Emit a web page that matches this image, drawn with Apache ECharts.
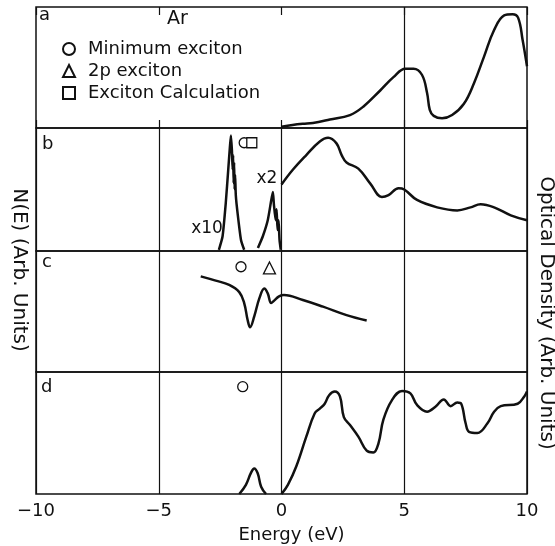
<!DOCTYPE html>
<html>
<head>
<meta charset="utf-8">
<script src="https://cdn.jsdelivr.net/npm/echarts@6/dist/echarts.min.js"></script>
<style>
  html, body { margin: 0; padding: 0; background: #fff; }
  #main { width: 555px; height: 546px; }
</style>
</head>
<body>
<div id="main"></div>
<script>
// energy ticks (eV)
var energyTicks = [-10, -5, 0, 5, 10];

// panel a: optical density, [energy, arb. units]
var densityA = [[0,0.01],[0.45,0.025],[0.87,0.035],[1.28,0.042],[1.97,0.07],[2.79,0.107],[3.33,0.176],
  [4.02,0.31],[4.56,0.42],[5.04,0.49],[5.38,0.49],[5.72,0.44],[5.93,0.29],[6.04,0.15],[6.2,0.1],
  [6.54,0.08],[6.95,0.107],[7.43,0.2],[7.84,0.37],[8.25,0.59],[8.66,0.81],[9.07,0.93],[9.41,0.94],
  [9.64,0.91],[9.82,0.73],[10,0.51]];

// panel b: x10 peak, x2 peak and optical density
var peakX10 = [[-2.55,0.01],[-2.4,0.12],[-2.27,0.39],[-2.17,0.66],[-2.1,0.85],[-2.06,0.94],[-2.02,0.82],
  [-1.99,0.66],[-1.97,0.78],[-1.95,0.55],[-1.93,0.72],[-1.91,0.5],[-1.89,0.62],[-1.86,0.45],
  [-1.79,0.31],[-1.65,0.09],[-1.52,0.01]];
var peakX2 = [[-0.96,0.025],[-0.76,0.12],[-0.56,0.25],[-0.42,0.41],[-0.35,0.48],[-0.31,0.38],
  [-0.24,0.25],[-0.2,0.34],[-0.16,0.17],[-0.12,0.25],[-0.08,0.09],[-0.03,0.01]];
var densityB = [[0,0.54],[0.46,0.66],[1.01,0.78],[1.56,0.89],[1.9,0.92],[2.24,0.875],[2.45,0.78],
  [2.65,0.72],[3.13,0.67],[3.61,0.55],[4.09,0.44],[4.36,0.455],[4.77,0.51],[5.0,0.5],[5.52,0.415],
  [6.34,0.355],[7.16,0.33],[7.7,0.355],[8.11,0.38],[8.66,0.355],[9.34,0.29],[10,0.25]];

// panel c: derivative-like spectrum
var spectrumC = [[-3.29,0.79],[-2.68,0.755],[-2.13,0.72],[-1.72,0.66],[-1.52,0.57],[-1.38,0.43],
  [-1.28,0.37],[-1.11,0.46],[-0.9,0.61],[-0.7,0.69],[-0.56,0.65],[-0.42,0.57],[-0.3,0.59],
  [-0.1,0.625],[0.1,0.636],[0.87,0.595],[1.69,0.54],[2.65,0.47],[3.47,0.425]];

// panel d: N(E)
var peakD = [[-1.72,0],[-1.45,0.075],[-1.24,0.175],[-1.11,0.21],[-0.97,0.17],[-0.83,0.06],[-0.63,0]];
var dosD = [[0,0],[0.26,0.075],[0.6,0.225],[1.01,0.47],[1.35,0.66],[1.56,0.7],[1.76,0.74],[1.94,0.81],
  [2.17,0.84],[2.38,0.8],[2.54,0.63],[2.79,0.565],[3.13,0.47],[3.47,0.355],[3.74,0.34],[3.95,0.415],
  [4.15,0.61],[4.5,0.77],[4.91,0.845],[5.25,0.825],[5.52,0.73],[5.93,0.675],[6.27,0.715],[6.61,0.775],
  [6.89,0.72],[7.16,0.75],[7.32,0.74],[7.5,0.58],[7.64,0.51],[7.98,0.5],[8.39,0.58],[8.66,0.675],
  [8.93,0.72],[9.62,0.74],[9.89,0.8],[10,0.84]];

// exciton markers
var minExcitonB = [[-1.52,0.88]];
var calcExcitonB = [[-1.21,0.88]];
var minExcitonC = [[-1.65,0.87]];
var p2ExcitonC = [[-0.49,0.86]];
var minExcitonD = [[-1.58,0.88]];

var ink = '#111';
var font = 'DejaVu Sans';

var myChart = echarts.init(document.getElementById('main'));

var gridTops = [7, 128, 251, 372];
var gridHeights = [121, 123, 121, 122];

var grids = gridTops.map(function (t, i) {
  return { left: 36, width: 491, top: t, height: gridHeights[i], show: true,
    borderColor: ink, borderWidth: 1.5, backgroundColor: 'transparent' };
});

var xAxes = gridTops.map(function (t, i) {
  return {
    type: 'value', gridIndex: i, min: -10, max: 10, interval: 5,
    axisLine: { show: false },
    axisTick: { show: i === 0, inside: true, length: 8, lineStyle: { color: ink, width: 1.2 } },
    splitLine: { show: i > 0, lineStyle: { color: ink, width: 1.2 } },
    axisLabel: {
      show: i === 3, color: ink, fontFamily: font, fontSize: 18, margin: 8,
      formatter: function (v) { return v < 0 ? '\u2212' + (-v) : String(v); }
    },
    name: i === 3 ? 'Energy (eV)' : '',
    nameLocation: 'middle', nameGap: 32,
    nameTextStyle: { color: ink, fontFamily: font, fontSize: 18, padding: [0, 0, 0, 20] }
  };
});
// top ticks on panel a
xAxes.push({
  type: 'value', gridIndex: 0, position: 'top', min: -10, max: 10, interval: 5,
  axisLine: { show: false },
  axisTick: { show: true, inside: true, length: 8, lineStyle: { color: ink, width: 1.2 } },
  splitLine: { show: false }, axisLabel: { show: false }
});

var yAxes = gridTops.map(function (t, i) {
  return { type: 'value', gridIndex: i, min: 0, max: 1, show: false };
});

function curve(data, g, sm) {
  return {
    type: 'line', xAxisIndex: g, yAxisIndex: g, data: data, smooth: sm,
    showSymbol: false, silent: true,
    lineStyle: { color: ink, width: 2.5 }
  };
}

function marks(name, data, g, symbol, size) {
  return {
    name: name, type: 'scatter', xAxisIndex: g, yAxisIndex: g, data: data,
    symbol: symbol, symbolSize: size, silent: true,
    itemStyle: { color: '#fff', borderColor: ink, borderWidth: 1.3, opacity: 1 }
  };
}

var seriesA = curve(densityA, 0, 0.4);
seriesA.markLine = {
  symbol: 'none', silent: true, label: { show: false },
  lineStyle: { color: ink, width: 1.2, type: 'solid' },
  data: [{ xAxis: 5 }]
};

var option = {
  backgroundColor: '#fff',
  animation: false,
  grid: grids,
  xAxis: xAxes,
  yAxis: yAxes,
  legend: {
    data: ['Minimum exciton', '2p exciton', 'Exciton Calculation'],
    orient: 'vertical', left: 57, top: 35, itemWidth: 12, itemHeight: 12, itemGap: 4,
    selectedMode: false,
    textStyle: { color: ink, fontFamily: font, fontSize: 18, padding: [0, 0, 0, 8] }
  },
  series: [
    seriesA,
    curve(peakX10, 1, 0.2),
    curve(peakX2, 1, 0.2),
    curve(densityB, 1, 0.4),
    curve(spectrumC, 2, 0.4),
    curve(peakD, 3, 0.4),
    curve(dosD, 3, 0.4),
    marks('Minimum exciton', minExcitonB, 1, 'circle', 10),
    marks('Exciton Calculation', calcExcitonB, 1, 'rect', 10),
    marks('Minimum exciton', minExcitonC, 2, 'circle', 10),
    marks('2p exciton', p2ExcitonC, 2, 'triangle', 12),
    marks('Minimum exciton', minExcitonD, 3, 'circle', 10)
  ],
  graphic: [
    { type: 'text', x: 39, y: 15, style: { text: 'a', font: '18px ' + font, fill: ink, textVerticalAlign: 'middle' } },
    { type: 'text', x: 42, y: 144, style: { text: 'b', font: '18px ' + font, fill: ink, textVerticalAlign: 'middle' } },
    { type: 'text', x: 42, y: 262, style: { text: 'c', font: '18px ' + font, fill: ink, textVerticalAlign: 'middle' } },
    { type: 'text', x: 41, y: 387, style: { text: 'd', font: '18px ' + font, fill: ink, textVerticalAlign: 'middle' } },
    { type: 'text', x: 167, y: 19, style: { text: 'Ar', font: '19px ' + font, fill: ink, textVerticalAlign: 'middle' } },
    { type: 'text', x: 207, y: 229, style: { text: 'x10', font: '17px ' + font, fill: ink, textAlign: 'center', textVerticalAlign: 'middle' } },
    { type: 'text', x: 267, y: 179, style: { text: 'x2', font: '17px ' + font, fill: ink, textAlign: 'center', textVerticalAlign: 'middle' } },
    { type: 'text', x: 19, y: 270, rotation: -Math.PI / 2,
      style: { text: 'N(E) (Arb. Units)', font: '20px ' + font, fill: ink, textAlign: 'center', textVerticalAlign: 'middle' } },
    { type: 'text', x: 546, y: 313, rotation: -Math.PI / 2,
      style: { text: 'Optical Density (Arb. Units)', font: '20px ' + font, fill: ink, textAlign: 'center', textVerticalAlign: 'middle' } }
  ]
};

myChart.setOption(option);
</script>
</body>
</html>
